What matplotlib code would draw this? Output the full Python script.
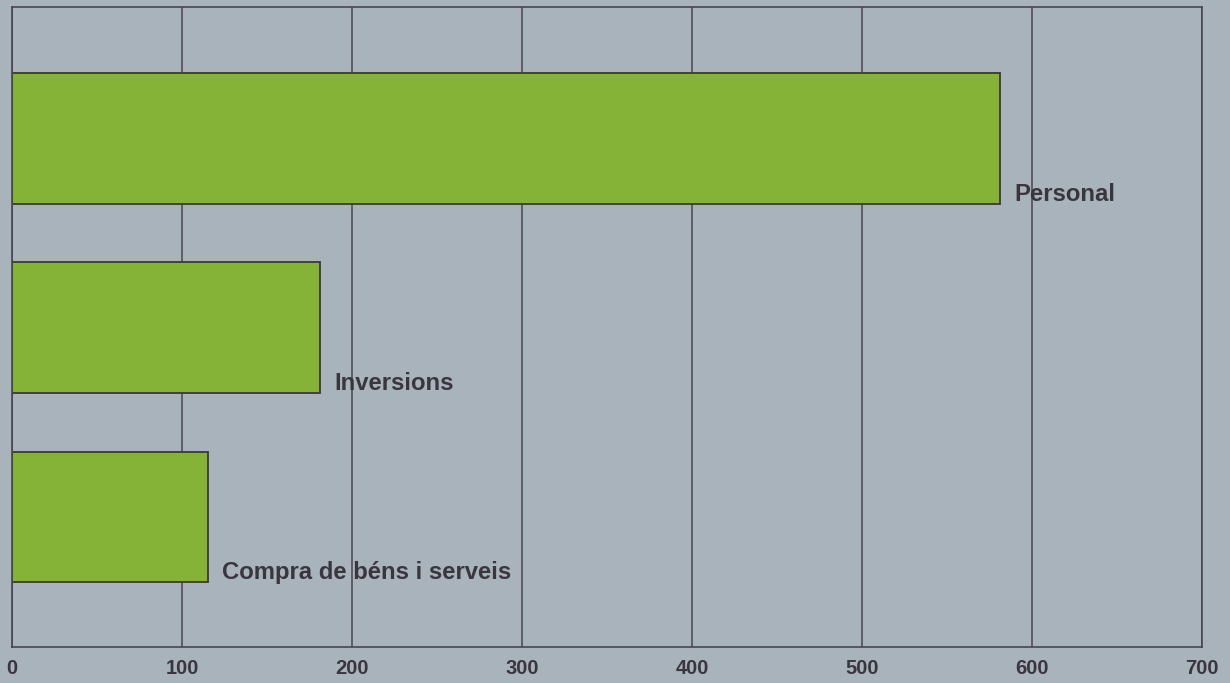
import matplotlib.pyplot as plt

# spending categories and amounts
categories = ['Personal', 'Inversions', 'Compra de béns i serveis']
values = [581, 181, 115]
xticks = [0, 100, 200, 300, 400, 500, 600, 700]

bg = '#a9b3bb'
green = '#84b338'
ink = '#3a3640'

plt.rcParams['font.family'] = ['Liberation Sans', 'DejaVu Sans']

fig = plt.figure(figsize=(12.3, 6.83), dpi=100, facecolor=bg)
ax = fig.add_axes([0.0098, 0.053, 0.9675, 0.937])
ax.set_facecolor(bg)

ypos = list(range(len(categories)))
bar_h = 0.69
ax.barh(ypos, values, height=bar_h, color=green, edgecolor='#3b3a2f', linewidth=1.3, zorder=2)

# labels sit just right of each bar end, near the bottom edge
for y, v, name in zip(ypos, values, categories):
    ax.annotate(name, (v, y + bar_h / 2 - 0.05), xytext=(10.5, 0), textcoords='offset points',
                ha='left', va='center', fontsize=17.2, fontweight='bold', color=ink, zorder=3)

ax.set_xlim(0, 700)
ax.set_ylim(2.686, -0.694)
ax.set_xticks(xticks)
ax.set_xticklabels([str(t) for t in xticks], fontsize=14.5, fontweight='bold', color=ink)
ax.set_yticks([])
ax.tick_params(axis='x', length=0, pad=9)
ax.grid(axis='x', color='#4a4550', linewidth=1.1, zorder=1)
ax.set_axisbelow(True)
for s in ax.spines.values():
    s.set_color('#4a4550')
    s.set_linewidth(1.2)

fig.savefig('out.png', dpi=100, facecolor=bg)
